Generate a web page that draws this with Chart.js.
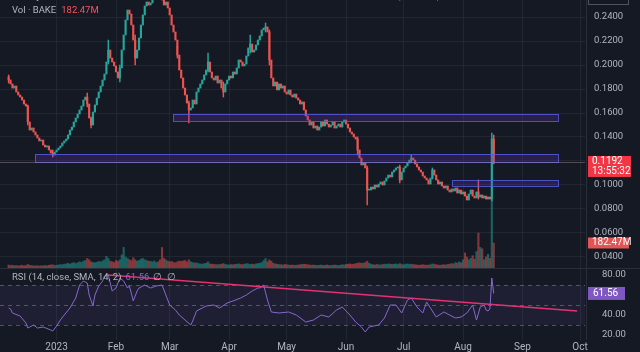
<!DOCTYPE html>
<html>
<head>
<meta charset="utf-8">
<script src="https://cdn.jsdelivr.net/npm/chart.js@4.4.0/dist/chart.umd.min.js"></script>
<style>
html, body { margin: 0; padding: 0; background: #151924; }
#wrap { position: relative; width: 640px; height: 352px; overflow: hidden; background: #151924; }
#precos { position: absolute; left: 0; top: 0; }
#rsi { position: absolute; left: 0; top: 268px; }
</style>
</head>
<body>
<div id="wrap">
  <canvas id="precos" width="640" height="268"></canvas>
  <canvas id="rsi" width="640" height="84"></canvas>
</div>
<script>
// dias contados a partir de 1 jan 2023
var firstDay = -25;
var firstOpen = 0.1900;

var closes = [
    0.1875, 0.1842, 0.1808, 0.1825, 0.1775, 0.1750, 0.1733, 0.1708, 0.1675, 0.1658,
    0.1525, 0.1458, 0.1475, 0.1442, 0.1417, 0.1392, 0.1367, 0.1375, 0.1333, 0.1317,
    0.1325, 0.1292, 0.1267, 0.1250, 0.1275, 0.1292, 0.1308, 0.1325, 0.1350, 0.1367,
    0.1383, 0.1417, 0.1458, 0.1483, 0.1525, 0.1558, 0.1592, 0.1625, 0.1658, 0.1708,
    0.1733, 0.1675, 0.1558, 0.1500, 0.1608, 0.1667, 0.1725, 0.1775, 0.1825, 0.1875,
    0.1925, 0.2025, 0.2125, 0.2058, 0.2025, 0.1992, 0.1942, 0.1892, 0.1975, 0.2125,
    0.2250, 0.2375, 0.2458, 0.2425, 0.2333, 0.2208, 0.2058, 0.2125, 0.2225, 0.2333,
    0.2417, 0.2492, 0.2525, 0.2500, 0.2517, 0.2558, 0.2608, 0.2642, 0.2608, 0.2583,
    0.2542, 0.2500, 0.2525, 0.2475, 0.2417, 0.2333, 0.2275, 0.2208, 0.2083, 0.1958,
    0.1892, 0.1808, 0.1750, 0.1683, 0.1625, 0.1642, 0.1708, 0.1675, 0.1775, 0.1808,
    0.1842, 0.1875, 0.1917, 0.1958, 0.2025, 0.1942, 0.1892, 0.1875, 0.1908, 0.1850,
    0.1875, 0.1808, 0.1775, 0.1842, 0.1875, 0.1908, 0.1892, 0.1942, 0.1925, 0.1975,
    0.2042, 0.2025, 0.1992, 0.2008, 0.2075, 0.2142, 0.2175, 0.2108, 0.2125, 0.2167,
    0.2208, 0.2242, 0.2292, 0.2308, 0.2317, 0.2275, 0.2042, 0.1892, 0.1825, 0.1858,
    0.1792, 0.1842, 0.1808, 0.1825, 0.1775, 0.1758, 0.1792, 0.1750, 0.1733, 0.1758,
    0.1725, 0.1708, 0.1675, 0.1692, 0.1625, 0.1575, 0.1542, 0.1500, 0.1525, 0.1475,
    0.1492, 0.1458, 0.1483, 0.1525, 0.1492, 0.1542, 0.1508, 0.1483, 0.1500, 0.1525,
    0.1475, 0.1492, 0.1508, 0.1483, 0.1525, 0.1542, 0.1508, 0.1475, 0.1442, 0.1425,
    0.1400, 0.1383, 0.1292, 0.1225, 0.1167, 0.1183, 0.1142, 0.0958, 0.0958, 0.0983,
    0.0967, 0.1000, 0.0983, 0.1008, 0.1025, 0.1000, 0.1033, 0.1058, 0.1083, 0.1067,
    0.1108, 0.1125, 0.1142, 0.1150, 0.1042, 0.1108, 0.1142, 0.1158, 0.1183, 0.1208,
    0.1225, 0.1208, 0.1175, 0.1150, 0.1125, 0.1108, 0.1075, 0.1058, 0.1042, 0.1008,
    0.1058, 0.1125, 0.1083, 0.1042, 0.1008, 0.1025, 0.0992, 0.0975, 0.0992, 0.0958,
    0.0942, 0.0967, 0.0950, 0.0975, 0.0933, 0.0958, 0.0925, 0.0942, 0.0908, 0.0875,
    0.0925, 0.0958, 0.0908, 0.0892, 0.0942, 0.0900, 0.0917, 0.0892, 0.0908, 0.0883,
    0.0900, 0.0883, 0.1383, 0.1192
];

// volume em milhoes
var volumes = [
    22, 18, 20, 16, 18, 15, 17, 20, 16, 18,
    26, 20, 18, 16, 15, 17, 14, 16, 15, 18,
    16, 20, 22, 24, 18, 20, 22, 25, 24, 28,
    30, 34, 28, 35, 40, 32, 38, 45, 40, 50,
    55, 70, 60, 45, 40, 38, 42, 48, 44, 52,
    60, 85, 70, 50, 45, 40, 55, 48, 60, 95,
    150, 80, 70, 60, 55, 75, 60, 50, 55, 65,
    70, 60, 55, 50, 48, 45, 52, 40, 45, 60,
    150, 70, 60, 50, 45, 48, 40, 38, 45, 50,
    48, 52, 55, 45, 60, 45, 40, 35, 38, 32,
    30, 28, 32, 35, 45, 30, 28, 26, 25, 24,
    26, 28, 32, 26, 24, 22, 25, 24, 26, 28,
    30, 26, 24, 28, 32, 30, 26, 28, 25, 30,
    32, 35, 40, 55, 70, 45, 60, 50, 35, 30,
    28, 25, 24, 22, 26, 24, 22, 20, 22, 20,
    20, 22, 24, 26, 28, 26, 24, 22, 20, 22,
    20, 18, 20, 22, 18, 20, 22, 19, 18, 20,
    22, 20, 18, 20, 24, 22, 26, 28, 30, 26,
    28, 32, 35, 38, 34, 36, 40, 50, 35, 28,
    24, 22, 26, 24, 22, 25, 28, 26, 30, 28,
    26, 28, 30, 25, 32, 26, 24, 28, 30, 26,
    28, 25, 24, 22, 20, 22, 24, 22, 20, 22,
    24, 30, 28, 24, 22, 20, 22, 24, 22, 26,
    28, 32, 30, 40, 35, 45, 38, 60, 110, 80,
    60, 70, 90, 65, 120, 255, 150, 140, 60, 80,
    100, 70, 495, 182.47
];

// pavios mais visiveis
var wickDays  = [-25, -15, -2, 16, 18, 27, 33, 41, 63, 69, 79, 87, 101, 109, 111, 157, 162, 179, 185, 196, 220, 227, 228];
var wickHighs = [0.1917, 0.1667, 0.1292, 0.1767, 0.1567, 0.2208, 0.2000, 0.2250, 0.2158, 0.1700, 0.2100, 0.1858, 0.2250, 0.2350, 0.2292, 0.1400, 0.1158, 0.1167, 0.1250, 0.1142, 0.1042, 0.1433, 0.1417];
var wickLows  = [0.1850, 0.1500, 0.1233, 0.1650, 0.1475, 0.2008, 0.1858, 0.2000, 0.2058, 0.1517, 0.1942, 0.1733, 0.2100, 0.2275, 0.2000, 0.1250, 0.0833, 0.1017, 0.1192, 0.1050, 0.0883, 0.0867, 0.1175];

var rsiDays = [-25, -24, -23, -19, -16, -15, -12, -10, -7, -3, -2, 0, 2, 4, 7, 10, 12, 14, 16, 17,
    19, 20, 22, 24, 25, 27, 29, 31, 33, 35, 37, 38, 40, 42, 43, 46, 49, 52, 55, 57,
    59, 62, 64, 67, 70, 71, 73, 76, 78, 82, 85, 89, 92, 96, 99, 102, 105, 106, 108, 110,
    112, 116, 121, 125, 130, 134, 138, 142, 146, 149, 153, 156, 159, 161, 163, 168, 171, 174, 177, 180,
    183, 185, 188, 191, 193, 195, 198, 202, 205, 208, 211, 214, 217, 219, 221, 223, 224, 225, 226, 227, 228];
var rsiValues = [47, 46, 42, 39, 32, 27, 30, 27, 28, 25, 24, 29, 35, 40, 47, 57, 70, 74, 72, 60,
    49, 60, 69, 74, 79, 80, 64, 67, 77, 74, 67, 69, 54, 64, 67, 70, 67, 69, 70, 60,
    50, 45, 40, 35, 30, 34, 44, 47, 49, 50, 47, 52, 54, 57, 60, 64, 67, 67, 70, 55,
    43, 42, 43, 40, 33, 35, 40, 38, 45, 48, 40, 33, 28, 23, 28, 30, 37, 50, 50, 42,
    55, 57, 48, 42, 53, 47, 38, 43, 40, 37, 38, 42, 50, 35, 48, 50, 45, 44, 46, 77, 61.56];

var trendDays = [26.9, 271.5];
var trendValues = [80, 44];

var boxStart  = [-11.3, 60.7, 206.3];
var boxEnd    = [261.6, 261.6, 261.6];
var boxTop    = [0.1258, 0.1592, 0.1042];
var boxBottom = [0.1192, 0.1533, 0.0992];

var priceTicks = [0.04, 0.06, 0.08, 0.10, 0.12, 0.14, 0.16, 0.18, 0.20, 0.22, 0.24];
var rsiTicks = [20, 40, 80];
var monthDays = [0, 31, 59, 90, 120, 151, 181, 212, 243, 273];
var monthNames = ["2023", "Feb", "Mar", "Apr", "May", "Jun", "Jul", "Aug", "Sep", "Oct"];

var lastPrice = 0.1192;
var lastVolume = 182.47;
var lastRsi = 61.56;

var UP = "#26a69a";
var DOWN = "#ef5350";
var FONT = "Roboto, 'Liberation Sans', sans-serif";
var GRID = "rgba(42, 46, 57, 0.6)";
var TEXT = "#b2b5be";

// monta candles (abertura = fechamento anterior)
var bodies = [], bodyColors = [], vols = [], volColors = [], wicks = [], wickColors = [];
var prev = firstOpen;
closes.forEach(function (c, i) {
    var up = c >= prev;
    bodies.push({ x: firstDay + i, y: [prev, c] });
    bodyColors.push(up ? UP : DOWN);
    vols.push({ x: firstDay + i, y: volumes[i] });
    volColors.push(up ? "rgba(38, 166, 154, 0.5)" : "rgba(239, 83, 80, 0.5)");
    prev = c;
});
wickDays.forEach(function (d, i) {
    var k = d - firstDay;
    var o = k > 0 ? closes[k - 1] : firstOpen;
    wicks.push({ x: d, y: [wickLows[i], wickHighs[i]] });
    wickColors.push(closes[k] >= o ? UP : DOWN);
});

function eixoX(mostrarTicks) {
    return {
        type: "linear", min: -29.5, max: 275.6, offset: false,
        afterBuildTicks: function (s) { s.ticks = monthDays.map(function (v) { return { value: v }; }); },
        afterFit: function (s) { s.height = mostrarTicks ? 12 : 0; s.paddingLeft = 0; s.paddingRight = 0; },
        ticks: {
            display: mostrarTicks, autoSkip: false, maxRotation: 0, padding: 1,
            color: TEXT, font: { family: FONT, size: 10 },
            callback: function (v, i) { return monthNames[i]; }
        },
        grid: { color: GRID, drawTicks: false, offset: false },
        border: { display: false }
    };
}

var pluginPreco = {
    id: "extrasPreco",
    afterDatasetsDraw: function (chart) {
        var ctx = chart.ctx, x = chart.scales.x, y = chart.scales.y;
        var area = chart.chartArea;
        ctx.save();
        // retangulos
        for (var i = 0; i < boxStart.length; i++) {
            var x1 = x.getPixelForValue(boxStart[i]), x2 = x.getPixelForValue(boxEnd[i]);
            var y1 = y.getPixelForValue(boxTop[i]), y2 = y.getPixelForValue(boxBottom[i]);
            ctx.fillStyle = "rgba(110, 50, 190, 0.24)";
            ctx.fillRect(x1, y1, x2 - x1, y2 - y1);
            ctx.strokeStyle = "rgba(85, 95, 230, 0.8)";
            ctx.lineWidth = 1;
            ctx.strokeRect(Math.round(x1) + 0.5, Math.round(y1) + 0.5, Math.round(x2 - x1), Math.round(y2 - y1));
        }
        // linha do preco atual
        var yp = Math.round(y.getPixelForValue(lastPrice)) + 0.5;
        ctx.strokeStyle = "rgba(170, 150, 160, 0.4)";
        ctx.beginPath(); ctx.moveTo(area.left, yp); ctx.lineTo(area.right, yp); ctx.stroke();
        ctx.restore();
    },
    afterDraw: function (chart) {
        var ctx = chart.ctx, y = chart.scales.y, v = chart.scales.v;
        var area = chart.chartArea;
        ctx.save();
        ctx.strokeStyle = "#2a2e39";
        ctx.beginPath(); ctx.moveTo(area.right + 1.5, 0); ctx.lineTo(area.right + 1.5, 268); ctx.stroke();
        ctx.font = "9.5px " + FONT;
        ctx.textBaseline = "middle";
        // titulo cortado no topo
        ctx.fillStyle = TEXT;
        ctx.fillText("Bakery Token / TetherUS · 1D · BINANCE", 12, -3);
        ctx.fillStyle = "#f7525f";
        ctx.fillText("O0.1383  H0.1417  L0.1175  C0.1192  −0.0191 (−13.81%)", 200, -3);
        ctx.fillStyle = TEXT;
        var rotulo = "Vol · BAKE";
        ctx.fillText(rotulo, 12, 11);
        ctx.fillStyle = "#f7525f";
        ctx.fillText("182.47M", 12 + ctx.measureText(rotulo).width + 5, 11);
        // etiqueta do topo (cortada)
        ctx.fillStyle = "#151924";
        ctx.strokeStyle = "#50535e";
        ctx.fillRect(588, -8, 40, 13);
        ctx.strokeRect(588.5, -7.5, 40, 12);
        ctx.font = "10px " + FONT;
        // etiqueta do preco
        var yp = y.getPixelForValue(lastPrice);
        ctx.fillStyle = "#f23645";
        ctx.fillRect(588, yp - 6, 43, 21);
        ctx.fillStyle = "#ffffff";
        ctx.fillText(lastPrice.toFixed(4), 592, yp);
        ctx.fillText("13:55:32", 592, yp + 10);
        // etiqueta do volume
        var yv = v.getPixelForValue(lastVolume);
        ctx.fillStyle = "#e25555";
        ctx.fillRect(588, yv - 5.5, 41, 11);
        ctx.fillStyle = "#ffffff";
        ctx.fillText(lastVolume.toFixed(2) + "M", 592, yv);
        ctx.restore();
    }
};

new Chart(document.getElementById("precos"), {
    type: "bar",
    data: {
        datasets: [
            { data: bodies, backgroundColor: bodyColors, barThickness: 1.5, minBarLength: 1, grouped: false, order: 1 },
            { data: wicks, backgroundColor: wickColors, barThickness: 0.8, grouped: false, order: 2 },
            { data: vols, yAxisID: "v", backgroundColor: volColors, barThickness: 1.5, grouped: false, order: 3 }
        ]
    },
    options: {
        responsive: false,
        animation: false,
        layout: { padding: 0 },
        plugins: { legend: { display: false }, tooltip: { enabled: false } },
        scales: {
            x: eixoX(false),
            y: {
                position: "right", min: 0.030833, max: 0.254167,
                afterBuildTicks: function (s) { s.ticks = priceTicks.map(function (v) { return { value: v }; }); },
                afterFit: function (s) { s.width = 55; s.paddingTop = 0; s.paddingBottom = 0; },
                ticks: { color: TEXT, padding: 9, font: { family: FONT, size: 9.5 },
                    callback: function (v) { return v.toFixed(4); } },
                grid: { color: GRID, drawTicks: false },
                border: { display: false }
            },
            v: { display: false, min: 0, max: 1956 }
        }
    },
    plugins: [pluginPreco]
});

var pluginRsi = {
    id: "extrasRsi",
    beforeDatasetsDraw: function (chart) {
        var ctx = chart.ctx, y = chart.scales.y, area = chart.chartArea;
        ctx.save();
        var y70 = y.getPixelForValue(70), y30 = y.getPixelForValue(30);
        ctx.fillStyle = "rgba(126, 87, 194, 0.10)";
        ctx.fillRect(area.left, y70, area.right - area.left, y30 - y70);
        ctx.strokeStyle = "rgba(120, 123, 134, 0.6)";
        ctx.setLineDash([4, 4]);
        [70, 50, 30].forEach(function (n) {
            var yy = Math.round(y.getPixelForValue(n)) + 0.5;
            ctx.beginPath(); ctx.moveTo(area.left, yy); ctx.lineTo(area.right, yy); ctx.stroke();
        });
        ctx.restore();
    },
    afterDraw: function (chart) {
        var ctx = chart.ctx, y = chart.scales.y, area = chart.chartArea;
        ctx.save();
        ctx.strokeStyle = "#2a2e39";
        ctx.beginPath(); ctx.moveTo(0, 0.5); ctx.lineTo(640, 0.5); ctx.stroke();
        ctx.beginPath(); ctx.moveTo(area.right + 1.5, 0); ctx.lineTo(area.right + 1.5, area.bottom); ctx.stroke();
        ctx.font = "9.5px " + FONT;
        ctx.textBaseline = "middle";
        ctx.fillStyle = TEXT;
        var t = "RSI (14, close, SMA, 14, 2)";
        ctx.fillText(t, 12, 10);
        var w = ctx.measureText(t).width;
        ctx.fillStyle = "#8668cf";
        ctx.fillText(lastRsi.toFixed(2), 12 + w + 4, 10);
        ctx.fillStyle = TEXT;
        ctx.fillText("∅  ∅", 12 + w + 32, 10);
        ctx.font = "10px " + FONT;
        var yr = y.getPixelForValue(lastRsi);
        ctx.fillStyle = "#7e57c2";
        ctx.fillRect(588, yr - 6.5, 37, 13);
        ctx.fillStyle = "#ffffff";
        ctx.fillText(lastRsi.toFixed(2), 593, yr);
        ctx.restore();
    }
};

new Chart(document.getElementById("rsi"), {
    type: "line",
    data: {
        datasets: [
            {
                data: rsiDays.map(function (d, i) { return { x: d, y: rsiValues[i] }; }),
                borderColor: "#8668cf", borderWidth: 1, pointRadius: 0, tension: 0
            },
            {
                data: trendDays.map(function (d, i) { return { x: d, y: trendValues[i] }; }),
                borderColor: "rgb(228, 50, 112)", borderWidth: 1.5, pointRadius: 0
            }
        ]
    },
    options: {
        responsive: false,
        animation: false,
        layout: { padding: 0 },
        plugins: { legend: { display: false }, tooltip: { enabled: false } },
        scales: {
            x: eixoX(true),
            y: {
                position: "right", min: 15, max: 87,
                afterBuildTicks: function (s) { s.ticks = rsiTicks.map(function (v) { return { value: v }; }); },
                afterFit: function (s) { s.width = 55; s.paddingTop = 0; s.paddingBottom = 0; },
                ticks: { color: TEXT, padding: 9, font: { family: FONT, size: 9.5 },
                    callback: function (v) { return v.toFixed(2); } },
                grid: { display: false },
                border: { display: false }
            }
        }
    },
    plugins: [pluginRsi]
});
</script>
</body>
</html>
